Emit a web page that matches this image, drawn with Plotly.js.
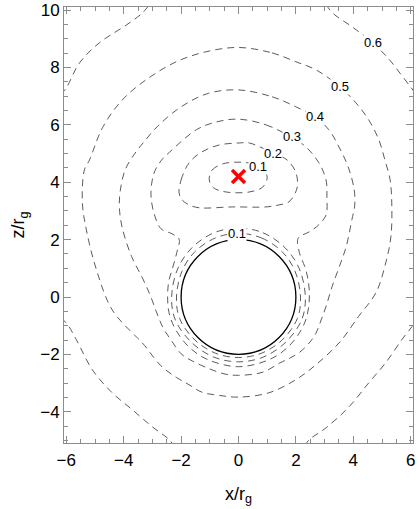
<!DOCTYPE html>
<html>
<head>
<meta charset="utf-8">
<script src="https://cdn.plot.ly/plotly-3.0.1.min.js"></script>
<style>html,body{margin:0;padding:0;background:#fff;}#chart{width:417px;height:509px;}</style>
</head>
<body>
<div id="chart"></div>
<script>
// ---- contour lines (x/r_g, z/r_g) ----
// level 0.1 : small loop around the source, ring around the horizon
const c01LoopX = [-1.02, -0.92, -0.55, 0.02, 0.54, 0.89, 1.00, 0.84, 0.37, -0.43, -0.87, -1.02];
const c01LoopZ = [4.08, 4.42, 4.64, 4.70, 4.63, 4.42, 4.15, 3.83, 3.66, 3.66, 3.81, 4.08];
const c01RingX = [0, 0.80, 1.52, 1.97, 2.16, 2.05, 1.52, 0.80, 0, -0.80, -1.52, -2.05, -2.16, -1.97, -1.52, -0.80, 0];
const c01RingZ = [2.22, 2.06, 1.58, 0.90, 0.0, -0.75, -1.50, -1.96, -2.11, -1.96, -1.50, -0.75, 0.0, 0.90, 1.58, 2.06, 2.22];
// level 0.2
const c02LoopX = [-2.07, -2.00, -1.72, -1.27, -0.67, 0.02, 0.37, 0.82, 1.17, 1.69, 2.00, 2.04, 1.76, 1.41, 0.96, -0.22, -1.37, -1.72, -1.97, -2.07];
const c02LoopZ = [3.63, 4.08, 4.68, 5.06, 5.30, 5.37, 5.37, 5.20, 5.02, 4.78, 4.33, 3.80, 3.32, 3.21, 3.14, 3.14, 3.11, 3.21, 3.39, 3.63];
const c02RingX = [0, 0.85, 1.62, 2.12, 2.33, 2.20, 1.62, 0.85, 0, -0.85, -1.62, -2.20, -2.33, -2.12, -1.62, -0.85, 0];
const c02RingZ = [2.40, 2.24, 1.72, 0.98, 0.0, -0.80, -1.60, -2.10, -2.26, -2.10, -1.60, -0.80, 0.0, 0.98, 1.72, 2.24, 2.40];
// level 0.3 (source region and horizon joined)
const c03X = [0.0, 0.96, 1.83, 2.35, 2.80, 3.05, 3.08, 3.05, 2.80, 2.46, 2.08, 2.12, 2.33, 2.44, 2.47, 2.40, 2.20, 1.75, 1.10, 0.0, -1.10, -1.75, -2.20, -2.42, -2.47, -2.43, -2.30, -2.15, -2.07, -2.31, -2.70, -2.94, -3.05, -2.95, -2.70, -2.40, -1.47, -0.78, 0.0];
const c03Z = [6.20, 6.00, 5.58, 5.23, 4.68, 4.08, 3.49, 2.86, 2.52, 2.27, 2.05, 1.55, 1.00, 0.50, 0.0, -0.60, -1.12, -1.72, -2.17, -2.43, -2.17, -1.72, -1.12, -0.55, 0.0, 0.55, 1.00, 1.55, 2.02, 2.20, 2.38, 2.90, 3.60, 4.30, 4.75, 5.05, 5.83, 6.10, 6.20];
// level 0.4
const c04X = [0.0, 1.17, 2.00, 2.66, 3.15, 3.50, 3.82, 4.03, 4.05, 3.95, 3.75, 3.51, 3.26, 3.06, 2.88, 2.70, 2.49, 2.14, 1.79, 1.44, 0.85, 0.0, -0.50, -1.02, -1.61, -2.00, -2.35, -2.62, -2.86, -3.06, -3.35, -3.72, -4.05, -4.15, -4.12, -3.95, -3.60, -3.30, -2.82, -2.00, -1.05, 0.0];
const c04Z = [7.22, 6.98, 6.63, 6.28, 5.83, 5.23, 4.54, 3.75, 3.20, 2.69, 1.75, 1.05, 0.36, -0.30, -0.80, -1.26, -1.57, -1.92, -2.13, -2.30, -2.62, -2.73, -2.68, -2.50, -2.23, -1.98, -1.50, -1.09, -0.52, 0.02, 0.67, 1.40, 2.41, 3.10, 3.70, 4.43, 5.02, 5.40, 5.95, 6.63, 7.10, 7.22];
// level 0.5
const c05X = [0.0, 1.17, 2.00, 2.70, 3.53, 4.09, 4.54, 4.89, 5.10, 5.28, 5.34, 5.31, 5.13, 4.79, 4.18, 3.53, 2.70, 2.00, 1.06, 0.0, -0.67, -1.27, -1.72, -2.17, -2.70, -3.34, -3.55, -4.40, -4.95, -5.30, -5.44, -5.37, -5.19, -4.74, -4.05, -3.21, -2.17, -1.13, 0.0];
const c05Z = [8.70, 8.51, 8.20, 7.92, 7.33, 6.77, 6.17, 5.48, 4.78, 4.10, 3.28, 2.10, 1.19, 0.15, -0.68, -1.57, -2.36, -2.88, -3.34, -3.49, -3.43, -3.32, -3.06, -2.80, -2.40, -1.61, -1.40, -0.45, 0.95, 2.34, 3.28, 4.43, 4.78, 5.90, 6.87, 7.58, 8.20, 8.55, 8.70];
// level 0.6 (four open pieces crossing the frame)
const c06TopLeftX = [-6.20, -6.00, -5.54, -4.85, -3.91, -3.35, -3.10];
const c06TopLeftZ = [7.05, 7.29, 8.16, 8.86, 9.48, 9.90, 10.20];
const c06TopRightX = [3.05, 3.28, 3.97, 4.68, 5.26, 5.72, 6.02, 6.20];
const c06TopRightZ = [10.20, 9.90, 9.41, 8.86, 8.27, 7.68, 7.29, 7.05];
const c06BotLeftX = [-6.20, -6.00, -5.65, -5.09, -4.40, -3.70, -3.01, -2.41, -2.25];
const c06BotLeftZ = [-0.75, -0.90, -1.49, -2.54, -3.34, -3.93, -4.52, -4.98, -5.20];
const c06BotRightX = [2.30, 2.46, 3.05, 3.85, 4.54, 5.13, 5.69, 6.04, 6.20];
const c06BotRightZ = [-5.20, -4.98, -4.56, -3.83, -2.99, -2.29, -1.49, -1.04, -0.80];

// contour labels
const labelText = ['0.6', '0.5', '0.4', '0.3', '0.2', '0.1', '0.1'];
const labelX = [4.68, 3.53, 2.66, 1.86, 1.19, 0.67, -0.06];
const labelZ = [8.86, 7.33, 6.28, 5.58, 5.02, 4.54, 2.23];

// horizon radius and source position
const horizonRadius = [2];
const sourceX = [0];
const sourceZ = [4.2];

const pieces = [
  [c01LoopX, c01LoopZ], [c01RingX, c01RingZ],
  [c02LoopX, c02LoopZ], [c02RingX, c02RingZ],
  [c03X, c03Z], [c04X, c04Z], [c05X, c05Z],
  [c06TopLeftX, c06TopLeftZ], [c06TopRightX, c06TopRightZ],
  [c06BotLeftX, c06BotLeftZ], [c06BotRightX, c06BotRightZ]
];

const FONT = 'Liberation Sans, Arial, sans-serif';
const traces = pieces.map(p => ({
  type: 'scatter', mode: 'lines', x: p[0], y: p[1], hoverinfo: 'skip',
  line: {color: '#4a4a4a', width: 0.9, dash: '7px,5px', shape: 'spline', smoothing: 1}
}));
traces.push({
  type: 'scatter', mode: 'markers', x: sourceX, y: sourceZ,
  marker: {symbol: 'x-thin', size: 13, color: 'red', line: {color: 'red', width: 3.5}}
});

const frameColor = '#8c8c8c';
const axisCommon = {
  showgrid: false, zeroline: false, showline: true, mirror: 'ticks',
  linecolor: frameColor, linewidth: 1,
  ticks: 'inside', ticklen: 7, tickwidth: 1, tickcolor: frameColor,
  dtick: 2, tick0: 0,
  tickfont: {family: FONT, size: 17, color: 'black'},
  minor: {dtick: 0.5, ticks: 'inside', ticklen: 4, tickcolor: frameColor, showgrid: false}
};

const r = horizonRadius[0];
const layout = {
  width: 417, height: 509,
  margin: {l: 64, r: 4, t: 7, b: 66},
  paper_bgcolor: 'white', plot_bgcolor: 'white',
  showlegend: false,
  xaxis: Object.assign({}, axisCommon, {
    range: [-6.08, 6.08],
    ticklabelstandoff: 2,
    title: {text: 'x/r<sub>g</sub>', font: {family: FONT, size: 18, color: 'black'}, standoff: 17}
  }),
  yaxis: Object.assign({}, axisCommon, {
    range: [-5.09, 10.11],
    title: {text: 'z/r<sub>g</sub>', font: {family: FONT, size: 18, color: 'black'}, standoff: 10}
  }),
  shapes: [{
    type: 'circle', xref: 'x', yref: 'y', x0: -r, x1: r, y0: -r, y1: r,
    line: {color: 'black', width: 1.3}, fillcolor: 'rgba(0,0,0,0)'
  }],
  annotations: labelText.map((t, i) => ({
    x: labelX[i], y: labelZ[i], xref: 'x', yref: 'y', text: t, showarrow: false,
    font: {family: FONT, size: 13, color: 'black'}, bgcolor: 'white', borderpad: 0
  }))
};

Plotly.newPlot('chart', traces, layout, {displayModeBar: false, staticPlot: true});
</script>
</body>
</html>
